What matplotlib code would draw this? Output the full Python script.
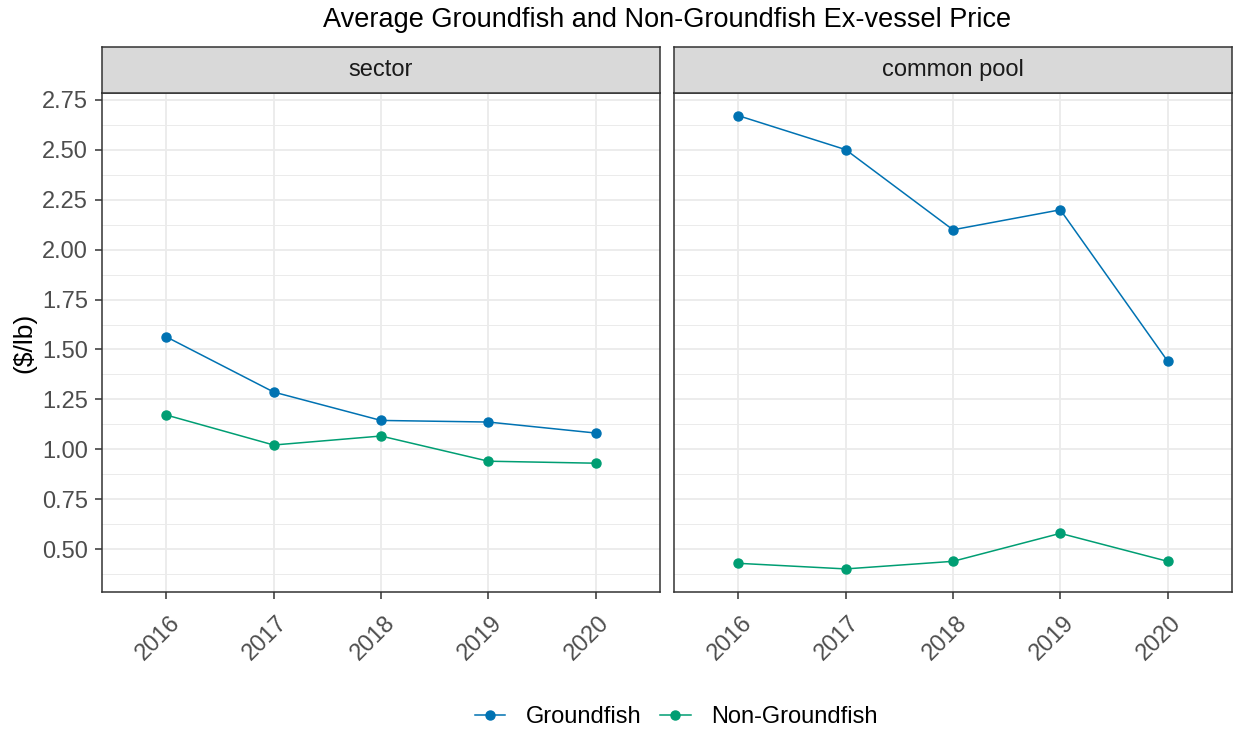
import numpy as np
import matplotlib
matplotlib.use('Agg')
import matplotlib.pyplot as plt
import matplotlib.transforms as mtransforms
from matplotlib.lines import Line2D

plt.rcParams['font.family'] = ['Liberation Sans', 'DejaVu Sans']

years = ['2016', '2017', '2018', '2019', '2020']
panels = ['sector', 'common pool']
ground = {'sector': [1.563, 1.287, 1.145, 1.137, 1.082],
          'common pool': [2.670, 2.500, 2.099, 2.199, 1.442]}
nonground = {'sector': [1.172, 1.022, 1.067, 0.941, 0.931],
             'common pool': [0.430, 0.402, 0.440, 0.580, 0.440]}
series = ['Groundfish', 'Non-Groundfish']
colors = ['#0072B2', '#009E73']

W, H = 1235, 732
fig = plt.figure(figsize=(W / 100, H / 100), dpi=100)

ymin, ymax = 0.2865, 2.7835
xpos = np.arange(1, len(years) + 1)
lefts = [102, 674]
pw = 558
top, bot = 93, 592
strip_top = 47

txt_gray = '#4D4D4D'
fs = 17
for k, p in enumerate(panels):
    ax = fig.add_axes([lefts[k] / W, 1 - bot / H, pw / W, (bot - top) / H])
    ax.set_xlim(0.4, 5.6)
    ax.set_ylim(ymin, ymax)
    ax.set_yticks(np.arange(0.5, 2.76, 0.25))
    ax.set_yticks(np.arange(0.375, 2.76, 0.25), minor=True)
    ax.set_xticks(xpos)
    ax.set_xticklabels(years)
    ax.grid(True, which='major', color='#EBEBEB', lw=1.3)
    ax.grid(True, which='minor', axis='y', color='#EBEBEB', lw=0.7)
    ax.set_axisbelow(True)
    for s in ax.spines.values():
        s.set_color('#333333')
        s.set_linewidth(1.1)
    ax.tick_params(axis='both', which='major', length=5, width=1.1, color='#333333',
                   labelsize=fs, labelcolor=txt_gray)
    ax.tick_params(axis='x', pad=9)
    ax.tick_params(axis='y', pad=5)
    ax.tick_params(which='minor', length=0)
    if k == 0:
        ax.set_yticklabels(['%.2f' % v for v in np.arange(0.5, 2.76, 0.25)])
        ax.set_ylabel('($/lb)', fontsize=19, color='black', labelpad=4)
    else:
        ax.set_yticklabels([])
        ax.tick_params(axis='y', length=0)
    offset = mtransforms.ScaledTranslation(-0.08, 0, fig.dpi_scale_trans)
    for lab in ax.get_xticklabels():
        lab.set_rotation(45)
        lab.set_ha('center')
        lab.set_va('top')
        lab.set_transform(lab.get_transform() + offset)
    for vals, c in zip([ground[p], nonground[p]], colors):
        ax.plot(xpos, vals, color=c, lw=1.1, marker='o', ms=6.5, mec=c, mfc=c)

    sax = fig.add_axes([lefts[k] / W, 1 - top / H, pw / W, (top - strip_top) / H])
    sax.set_facecolor('#D9D9D9')
    sax.set_xticks([])
    sax.set_yticks([])
    for s in sax.spines.values():
        s.set_color('#333333')
        s.set_linewidth(1.1)
    sax.text(0.5, 0.5, p, ha='center', va='center', fontsize=fs, color='#1A1A1A',
             transform=sax.transAxes)

fig.text((lefts[0] + lefts[1] + pw) / 2 / W, 1 - 20 / H,
         'Average Groundfish and Non-Groundfish Ex-vessel Price',
         ha='center', va='center', fontsize=19.5, color='black')

handles = [Line2D([0], [0], color=c, lw=1.1, marker='o', ms=6.5) for c in colors]
fig.legend(handles, series, loc='center', bbox_to_anchor=(676 / W, 1 - 717 / H),
           ncol=2, frameon=False, fontsize=fs, handlelength=1.3, columnspacing=0.8,
           handletextpad=0.85)

fig.savefig('out.png', dpi=100)
